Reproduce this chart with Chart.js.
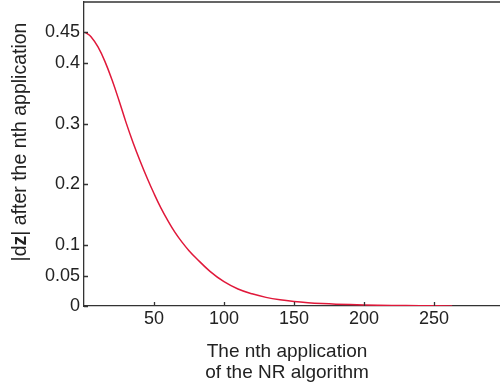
<!DOCTYPE html>
<html>
<head>
<script src="https://cdn.jsdelivr.net/npm/chart.js"></script>
<style>
    html, body {
        margin: 0;
        padding: 0;
        overflow: hidden;
        background: #fff;
    }
</style>
</head>
<body>
<canvas id="nrChart" width="505" height="390" style="width:505px;height:390px"></canvas>
<script>
// iteration number n and |dz| after the nth application
const steps = [1, 5, 10, 15, 20, 25, 30, 35, 40, 45, 50, 55, 60, 65, 70, 75, 80, 90, 100,
    110, 120, 130, 140, 150, 160, 170, 180, 200, 220, 240, 263];
const dzValues = [0.450, 0.443, 0.426, 0.402, 0.372, 0.338, 0.302, 0.269, 0.239, 0.211, 0.185,
    0.161, 0.140, 0.121, 0.105, 0.091, 0.079, 0.057, 0.040, 0.028, 0.020, 0.0142, 0.0102,
    0.0074, 0.0054, 0.0040, 0.0030, 0.0017, 0.0009, 0.0005, 0.0002];

const xTicks = [50, 100, 150, 200, 250];
const yTicks = [0, 0.05, 0.1, 0.2, 0.3, 0.4, 0.45];

const xTitleLines = ['The nth application', 'of the NR algorithm'];
const yTitleParts = [
    { text: '|d', bold: false },
    { text: 'z', bold: true },
    { text: '| after the nth application', bold: false }
];

const FONT = "'Liberation Sans', Arial, Helvetica, sans-serif";
const INK = '#222';

// inward tick marks, top frame line and the axis titles
const framePlugin = {
    id: 'frame',
    afterDraw(chart) {
        const { ctx, chartArea: area } = chart;
        const x = chart.scales.x;
        const y = chart.scales.y;
        ctx.save();
        ctx.strokeStyle = '#333';
        ctx.lineWidth = 1.3;
        ctx.beginPath();
        ctx.moveTo(area.left, area.top);
        ctx.lineTo(area.right, area.top);
        xTicks.forEach(v => {
            const px = Math.round(x.getPixelForValue(v)) + 0.5;
            ctx.moveTo(px, area.bottom);
            ctx.lineTo(px, area.bottom - 4);
        });
        yTicks.forEach(v => {
            const py = Math.round(y.getPixelForValue(v)) + 0.5;
            ctx.moveTo(area.left, py);
            ctx.lineTo(area.left + 4, py);
        });
        ctx.stroke();

        // x axis title, two lines
        ctx.fillStyle = INK;
        ctx.font = '19px ' + FONT;
        ctx.textAlign = 'center';
        ctx.textBaseline = 'alphabetic';
        ctx.fillText(xTitleLines[0], 287, 357);
        ctx.fillText(xTitleLines[1], 287, 378);

        // y axis title with a bold z
        ctx.translate(21, 142);
        ctx.rotate(-Math.PI / 2);
        ctx.textAlign = 'left';
        ctx.textBaseline = 'middle';
        const fontFor = p => (p.bold ? 'bold ' : '') + '19.5px ' + FONT;
        let total = 0;
        yTitleParts.forEach(p => { ctx.font = fontFor(p); total += ctx.measureText(p.text).width; });
        let pos = -total / 2;
        yTitleParts.forEach(p => {
            ctx.font = fontFor(p);
            ctx.fillText(p.text, pos, 0);
            pos += ctx.measureText(p.text).width;
        });
        ctx.restore();
    }
};

new Chart(document.getElementById('nrChart').getContext('2d'), {
    type: 'line',
    data: {
        datasets: [{
            data: steps.map((n, i) => ({ x: n, y: dzValues[i] })),
            borderColor: '#e0183a',
            borderWidth: 1.5,
            pointRadius: 0,
            fill: false,
            tension: 0.4
        }]
    },
    options: {
        responsive: false,
        animation: false,
        layout: { padding: { left: 0, right: 1, top: 2, bottom: 0 } },
        plugins: {
            legend: { display: false },
            tooltip: { enabled: false }
        },
        scales: {
            x: {
                type: 'linear',
                min: 0,
                max: 300,
                grid: { display: false, drawTicks: false },
                border: { display: true, color: '#333', width: 1.3 },
                afterBuildTicks: scale => { scale.ticks = xTicks.map(v => ({ value: v })); },
                afterFit: scale => {
                    scale.height = 84;
                    scale.paddingLeft = 0;
                    scale.paddingRight = 0;
                },
                ticks: {
                    padding: 2,
                    color: INK,
                    font: { family: FONT, size: 18 },
                    maxRotation: 0,
                    callback: v => String(v)
                }
            },
            y: {
                type: 'linear',
                min: 0,
                max: 0.5,
                grid: { display: false, drawTicks: false },
                border: { display: true, color: '#333', width: 1.3 },
                afterBuildTicks: scale => { scale.ticks = yTicks.map(v => ({ value: v })); },
                afterFit: scale => {
                    scale.width = 84;
                    scale.paddingTop = 0;
                    scale.paddingBottom = 0;
                },
                ticks: {
                    padding: 4,
                    color: INK,
                    font: { family: FONT, size: 18 },
                    callback: v => String(v)
                }
            }
        }
    },
    plugins: [framePlugin]
});
</script>
</body>
</html>
